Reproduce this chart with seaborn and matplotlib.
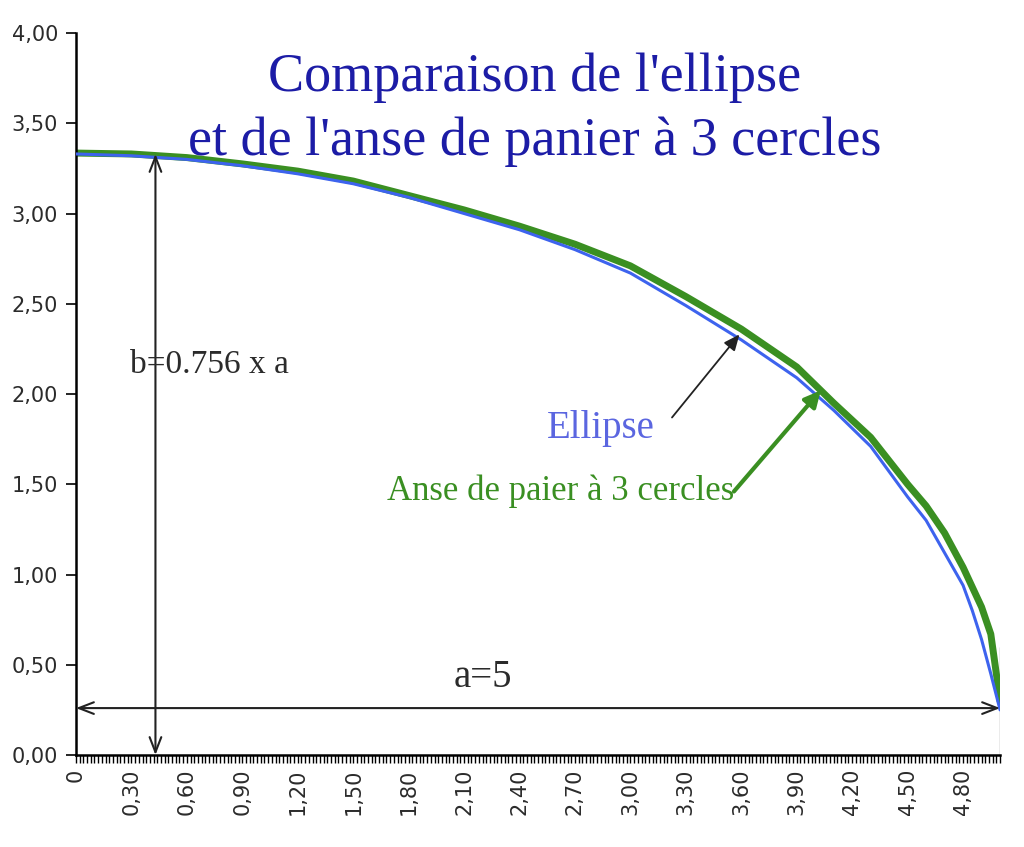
import matplotlib
matplotlib.use("Agg")
import matplotlib.pyplot as plt
import matplotlib.ticker as mticker
import seaborn as sns
import pandas as pd
import numpy as np

C_TITRE = "#1c1ca6"
C_ELLIPSE = "#3d63ee"
C_ELLIPSE_TXT = "#5b66e0"
C_ANSE = "#3a8f22"
C_TEXTE = "#2b2b2b"

# valeurs
x_points = [0, 0.3, 0.6, 0.9, 1.2, 1.5, 1.8, 2.1, 2.4, 2.7, 3.0, 3.3, 3.6, 3.9,
            4.1, 4.3, 4.5, 4.6, 4.7, 4.8, 4.85, 4.9, 4.95, 4.98, 5.0]
y_ellipse = [3.33, 3.32, 3.30, 3.265, 3.22, 3.165, 3.09, 3.00, 2.91, 2.80, 2.67, 2.49, 2.30, 2.09,
             1.91, 1.71, 1.43, 1.30, 1.12, 0.94, 0.80, 0.64, 0.45, 0.33, 0.25]
y_anse = [3.335, 3.33, 3.31, 3.275, 3.235, 3.18, 3.10, 3.02, 2.93, 2.83, 2.71, 2.54, 2.36, 2.15,
          1.95, 1.76, 1.50, 1.38, 1.23, 1.04, 0.93, 0.82, 0.67, 0.45, 0.30]

x_ticks = [0, 0.3, 0.6, 0.9, 1.2, 1.5, 1.8, 2.1, 2.4, 2.7, 3.0, 3.3, 3.6, 3.9, 4.2, 4.5, 4.8]
y_ticks = [0, 0.5, 1.0, 1.5, 2.0, 2.5, 3.0, 3.5, 4.0]

df = pd.DataFrame({
    "x": x_points * 2,
    "y": y_ellipse + y_anse,
    "courbe": ["Ellipse"] * len(x_points) + ["Anse"] * len(x_points),
})

sns.set_theme(style="white")
plt.rcParams["font.family"] = ["DejaVu Sans"]

fig = plt.figure(figsize=(10.24, 8.47), dpi=100)
ax = fig.add_axes([0.0742, 0.1086, 0.9024, 0.8524])

sns.lineplot(data=df[df["courbe"] == "Ellipse"], x="x", y="y", color=C_ELLIPSE,
             linewidth=2.2, ax=ax, zorder=3)
sns.lineplot(data=df[df["courbe"] == "Anse"], x="x", y="y", color=C_ANSE,
             linewidth=5, ax=ax, zorder=2)

ax.set_xlim(0, 5.0)
ax.set_ylim(0, 4.0)
ax.set_xlabel("")
ax.set_ylabel("")

ax.set_xticks(x_ticks)
ax.set_xticks(np.arange(0, 5.001, 0.02), minor=True)
ax.set_yticks(y_ticks)
ax.xaxis.set_major_formatter(mticker.FuncFormatter(
    lambda v, p: "0" if abs(v) < 1e-9 else f"{v:.2f}".replace(".", ",")))
ax.yaxis.set_major_formatter(mticker.FuncFormatter(
    lambda v, p: f"{v:.2f}".replace(".", ",")))
ax.tick_params(axis="x", which="both", direction="out", length=6, width=1,
               color="black", bottom=True, labelsize=15, rotation=90, pad=4)
ax.tick_params(axis="y", which="major", direction="out", length=7, width=1.2,
               color="black", left=True, labelsize=15, pad=6)
for lab in ax.get_xticklabels() + ax.get_yticklabels():
    lab.set_color(C_TEXTE)

for s in ["top", "right"]:
    ax.spines[s].set_visible(False)
for s in ["left", "bottom"]:
    ax.spines[s].set_color("black")
    ax.spines[s].set_linewidth(1.8)

# cotes
fleche_ouverte = dict(arrowstyle="<->,head_length=0.9,head_width=0.35",
                      color="#222222", lw=1.5, shrinkA=0, shrinkB=0)
ax.annotate("", xy=(0.43, 3.33), xytext=(0.43, 0.0), arrowprops=fleche_ouverte, zorder=4)
ax.annotate("", xy=(0.0, 0.26), xytext=(5.0, 0.26), arrowprops=fleche_ouverte, zorder=4)
ax.vlines(5.0, 0, 0.6, color="#999999", lw=1, zorder=1)

police_serif = ["Liberation Serif", "DejaVu Serif"]
ax.text(0.29, 2.16, "b=0.756 x a", fontsize=24, family=police_serif, color=C_TEXTE,
        ha="left", va="center", zorder=5)
ax.text(2.20, 0.43, "a=5", fontsize=28, family=police_serif, color=C_TEXTE,
        ha="center", va="center")

ax.text(2.48, 3.575, "Comparaison de l'ellipse\net de l'anse de panier à 3 cercles",
        fontsize=39, family=police_serif, color=C_TITRE, ha="center", va="center",
        linespacing=1.33)

ax.text(2.84, 1.81, "Ellipse", fontsize=28, family=police_serif, color=C_ELLIPSE_TXT,
        ha="center", va="center")
ax.text(2.62, 1.46, "Anse de paier à 3 cercles", fontsize=25, family=police_serif,
        color=C_ANSE, ha="center", va="center")

ax.annotate("", xy=(3.59, 2.33), xytext=(3.225, 1.87),
            arrowprops=dict(arrowstyle="-|>,head_length=0.8,head_width=0.35",
                            color="#222222", lw=1.3, shrinkA=0, shrinkB=0), zorder=6)
ax.annotate("", xy=(4.03, 2.02), xytext=(3.56, 1.46),
            arrowprops=dict(arrowstyle="-|>,head_length=0.8,head_width=0.4",
                            color=C_ANSE, lw=3, shrinkA=0, shrinkB=0), zorder=6)

fig.savefig("out.png", dpi=100, facecolor="white")
plt.close(fig)
